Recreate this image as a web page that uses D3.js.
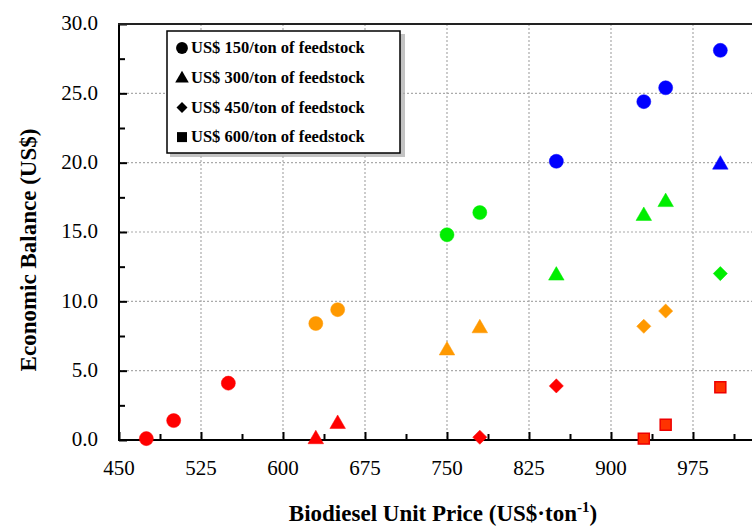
<!DOCTYPE html>
<html>
<head>
<meta charset="utf-8">
<script src="https://cdn.jsdelivr.net/npm/d3@7"></script>
<style>
  body { margin: 0; background: #fff; }
  #chart { position: relative; width: 752px; height: 526px; overflow: hidden; }
  #chart svg { position: absolute; left: 0; top: 0; }
  .lbl {
    position: absolute;
    font-family: "Liberation Serif";
    line-height: 1;
    white-space: nowrap;
    color: #000;
  }
  .bold { font-weight: bold; }
</style>
</head>
<body>
<div id="chart"></div>
<script>
/// DATA

const seriesNames = [
  "US$ 150/ton of feedstock",
  "US$ 300/ton of feedstock",
  "US$ 450/ton of feedstock",
  "US$ 600/ton of feedstock",
]
const seriesShapes = ["circle", "triangle", "diamond", "square"]

const price150 = [475, 500, 550, 630, 650, 750, 780, 850, 930, 950, 1000]
const balance150 = [0.1, 1.4, 4.1, 8.4, 9.4, 14.8, 16.4, 20.1, 24.4, 25.4, 28.1]

const price300 = [630, 650, 750, 780, 850, 930, 950, 1000]
const balance300 = [0.2, 1.3, 6.6, 8.2, 12.0, 16.3, 17.3, 20.0]

const price450 = [780, 850, 930, 950, 1000]
const balance450 = [0.2, 3.9, 8.2, 9.3, 12.0]

const price600 = [930, 950, 1000]
const balance600 = [0.1, 1.1, 3.8]

const xTicks = [450, 525, 600, 675, 750, 825, 900, 975]
const yTicks = [0, 5, 10, 15, 20, 25, 30]

const series = [
  [price150, balance150],
  [price300, balance300],
  [price450, balance450],
  [price600, balance600],
].map(([xs, ys], i) => ({
  key: seriesNames[i],
  shape: seriesShapes[i],
  values: xs.map((x, j) => ({ price: x, balance: ys[j] })),
}))

/// LAYOUT

const chartW = 752
const chartH = 526
const margins = { top: 24, bottom: 86, left: 119 }

const xScale = d3
  .scaleLinear()
  .domain([450, 1050])
  .range([margins.left, margins.left + 600 * (82 / 75)])

const yScale = d3
  .scaleLinear()
  .domain([0, 30])
  .range([chartH - margins.bottom, margins.top])

// colour follows the balance band
const colorScale = d3
  .scaleThreshold()
  .domain([5, 10, 20])
  .range(["#ff0000", "#ff9900", "#00ee00", "#0000ff"])

const symbolType = {
  circle: d3.symbolCircle,
  triangle: d3.symbolTriangle,
  diamond: d3.symbolSquare,
  square: d3.symbolSquare,
}
const symbolSize = { circle: 155, triangle: 105, diamond: 100, square: 120 }
const symbolShift = { circle: 0, triangle: 2, diamond: 0, square: 0 }

const container = d3.select("#chart")

const svg = container
  .append("svg")
  .attr("width", chartW)
  .attr("height", chartH)

const plotRight = chartW + 5

// baseline offset from the top of a line-height:1 box (Liberation Serif)
const baseOff = (size) => size * 0.8375

/// GRID

const grid = svg.append("g")
grid
  .selectAll("line.vgrid")
  .data(xTicks.slice(1))
  .join("line")
  .attr("x1", (d) => xScale(d))
  .attr("x2", (d) => xScale(d))
  .attr("y1", yScale(30))
  .attr("y2", yScale(0))
  .attr("stroke", "#aaa")
  .attr("stroke-width", 1.2)
  .attr("stroke-dasharray", "2,2")

grid
  .selectAll("line.hgrid")
  .data(yTicks.slice(1, -1))
  .join("line")
  .attr("x1", xScale(450))
  .attr("x2", plotRight)
  .attr("y1", (d) => yScale(d))
  .attr("y2", (d) => yScale(d))
  .attr("stroke", "#aaa")
  .attr("stroke-width", 1.2)
  .attr("stroke-dasharray", "2,2")

/// AXES

const xAxisGenerator = d3
  .axisTop(xScale)
  .tickValues(d3.range(450, 1050, 37.5))
  .tickSize(0)
  .tickFormat("")

const xAxis = svg
  .append("g")
  .attr("transform", `translate(0, ${yScale(0)})`)
  .call(xAxisGenerator)
xAxis.select(".domain").remove()
xAxis
  .selectAll(".tick line")
  .attr("y2", (d) => (xTicks.includes(d) ? -8 : -6))
  .attr("stroke", "#000")
  .attr("stroke-width", 2)

svg
  .append("line")
  .attr("x1", xScale(450))
  .attr("x2", plotRight)
  .attr("y1", yScale(0))
  .attr("y2", yScale(0))
  .attr("stroke", "#000")
  .attr("stroke-width", 2)

const yAxisGenerator = d3
  .axisRight(yScale)
  .tickValues(d3.range(0, 30.1, 2.5))
  .tickSize(0)
  .tickFormat("")

const yAxis = svg
  .append("g")
  .attr("transform", `translate(${xScale(450)}, 0)`)
  .call(yAxisGenerator)
yAxis.select(".domain").remove()
yAxis
  .selectAll(".tick line")
  .attr("x2", (d) => (d % 5 === 0 ? 8 : 6))
  .attr("stroke", "#000")
  .attr("stroke-width", 2)

svg
  .append("line")
  .attr("x1", xScale(450))
  .attr("x2", xScale(450))
  .attr("y1", yScale(30) - 1)
  .attr("y2", yScale(0) + 1)
  .attr("stroke", "#000")
  .attr("stroke-width", 2)

svg
  .append("line")
  .attr("x1", xScale(450) - 1)
  .attr("x2", plotRight)
  .attr("y1", yScale(30))
  .attr("y2", yScale(30))
  .attr("stroke", "#222")
  .attr("stroke-width", 2)

/// POINTS

const symbolPath = (shape, size) =>
  d3.symbol().type(symbolType[shape]).size(size)()

series.forEach((s) => {
  svg
    .append("g")
    .selectAll("path")
    .data(s.values)
    .join("path")
    .attr("transform", (d) => {
      const pos = `translate(${xScale(d.price)}, ${yScale(d.balance) + symbolShift[s.shape]})`
      return s.shape === "diamond" ? pos + " rotate(45)" : pos
    })
    .attr("d", symbolPath(s.shape, symbolSize[s.shape]))
    .attr("fill", (d) =>
      s.shape === "square" ? "#ff3300" : colorScale(d.balance)
    )
    .attr("stroke", (d) =>
      s.shape === "square" ? "#ee0000" : colorScale(d.balance)
    )
    .attr("stroke-width", s.shape === "square" ? 1.5 : 0.5)
})

/// LEGEND BOX

const legendX = 167
const legendY = 31

const legend = svg.append("g").attr("transform", `translate(${legendX}, ${legendY})`)

legend
  .append("rect")
  .attr("x", 3)
  .attr("y", 3)
  .attr("width", 235)
  .attr("height", 123)
  .attr("fill", "#aaa")
  .attr("opacity", 0.7)

legend
  .append("rect")
  .attr("width", 233)
  .attr("height", 122)
  .attr("fill", "#fff")
  .attr("stroke", "#000")
  .attr("stroke-width", 1.5)

const legendSize = { circle: 110, triangle: 80, diamond: 60, square: 100 }

series.forEach((s, i) => {
  legend
    .append("path")
    .attr("transform", () => {
      const pos = `translate(15, ${17 + i * 29.7 + (s.shape === "triangle" ? 1 : 0)})`
      return s.shape === "diamond" ? pos + " rotate(45)" : pos
    })
    .attr("d", symbolPath(s.shape, legendSize[s.shape]))
    .attr("fill", "#000")
})

/// TEXT (html labels placed with the same scales)

xTicks.forEach((t) => {
  container
    .append("div")
    .attr("class", "lbl")
    .style("font-size", "21px")
    .style("left", xScale(t) + "px")
    .style("top", yScale(0) + 36 - baseOff(21) + "px")
    .style("transform", "translateX(-50%)")
    .text(t)
})

yTicks.forEach((t) => {
  container
    .append("div")
    .attr("class", "lbl")
    .style("font-size", "21px")
    .style("right", chartW - (xScale(450) - 21) + "px")
    .style("top", yScale(t) + 7 - baseOff(21) + "px")
    .text(t.toFixed(1))
})

container
  .append("div")
  .attr("class", "lbl bold")
  .style("font-size", "23px")
  .style("left", "36px")
  .style("top", "250px")
  .style("transform-origin", "0 0")
  .style("transform", `rotate(-90deg) translate(-50%, -${baseOff(23)}px)`)
  .text("Economic Balance (US$)")

const xTitle = container
  .append("div")
  .attr("class", "lbl bold")
  .style("font-size", "23px")
  .style("left", "443px")
  .style("top", 521 - baseOff(23) + "px")
  .style("transform", "translateX(-50%)")
xTitle.append("span").text("Biodiesel Unit Price (US$·ton")
xTitle
  .append("span")
  .style("font-size", "15px")
  .style("position", "relative")
  .style("top", "-9px")
  .text("-1")
xTitle.append("span").text(")")

series.forEach((s, i) => {
  container
    .append("div")
    .attr("class", "lbl bold")
    .style("font-size", "16.5px")
    .style("left", legendX + 24 + "px")
    .style("top", legendY + 17 + i * 29.7 + 6 - baseOff(16.5) + "px")
    .text(s.key)
})
</script>
</body>
</html>
